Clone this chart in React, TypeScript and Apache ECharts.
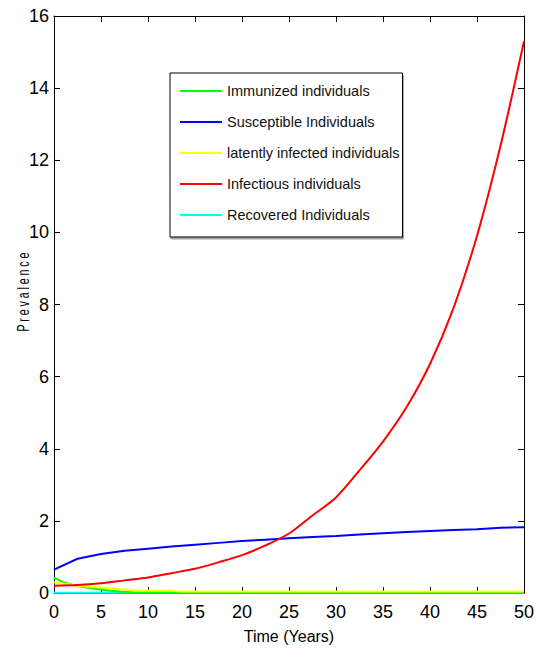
import React, { useEffect, useRef } from "react";
import * as echarts from "echarts";

const FONT = "'Liberation Sans Narrow', 'Arial Narrow', 'Liberation Sans', Arial, sans-serif";

const seriesNames = [
  "Immunized individuals",
  "Susceptible Individuals",
  "latently infected individuals",
  "Infectious individuals",
  "Recovered Individuals",
];
const seriesColors = ["#00ff00", "#0000ff", "#ffff00", "#ff0000", "#00ffff"];

const xTicks = [0, 5, 10, 15, 20, 25, 30, 35, 40, 45, 50];

const immunizedX = [0, 1, 2, 3, 4, 5, 6, 7, 8, 10, 12, 15, 20, 30, 40, 50];
const immunizedY = [0.42, 0.3, 0.22, 0.17, 0.13, 0.1, 0.06, 0.04, 0.03, 0.03, 0.03, 0.03, 0.03, 0.03, 0.03, 0.03];

const timeX = [0, 2.5, 5, 7.5, 10, 12.5, 15, 17.5, 20, 22.5, 25, 27.5, 30, 32.5, 35, 37.5, 40, 42.5, 45, 47.5, 50];
const susceptibleY = [0.65, 0.95, 1.08, 1.17, 1.23, 1.29, 1.34, 1.39, 1.44, 1.48, 1.52, 1.55, 1.58, 1.62, 1.66, 1.69, 1.72, 1.75, 1.77, 1.81, 1.82];
const infectiousY = [0.2, 0.22, 0.27, 0.35, 0.43, 0.55, 0.67, 0.85, 1.05, 1.32, 1.65, 2.15, 2.65, 3.4, 4.2, 5.15, 6.35, 7.9, 9.9, 12.4, 15.3];

const latentX = [0, 2.5, 5, 7.5, 8.5, 10, 12.5, 13.5, 20, 30, 40, 50];
const latentY = [0.3, 0.2, 0.15, 0.1, 0.06, 0.06, 0.06, 0.04, 0.04, 0.04, 0.04, 0.04];

const recoveredX = [0, 10, 20, 30, 40, 50];
const recoveredY = [0.01, 0.01, 0.01, 0.01, 0.01, 0.01];

const pairs = (xs: number[], ys: number[]) => xs.map((x, i) => [x, ys[i]]);

export default function App() {
  const ref = useRef<HTMLDivElement>(null);
  useEffect(() => {
    if (!ref.current) return;
    const chart = echarts.init(ref.current, null, { renderer: "svg" });
    const dataSets = [
      pairs(immunizedX, immunizedY),
      pairs(timeX, susceptibleY),
      pairs(latentX, latentY),
      pairs(timeX, infectiousY),
      pairs(recoveredX, recoveredY),
    ];
    const axisLine = { show: true, onZero: false, lineStyle: { color: "#000", width: 1 } };
    const tick = { show: true, inside: true, length: 6, lineStyle: { color: "#000" } };
    chart.setOption({
      animation: false,
      backgroundColor: "#fff",
      grid: { left: 54, top: 16, right: 11, bottom: 61, containLabel: false },
      legend: {
        orient: "vertical",
        left: 170,
        top: 73,
        data: seriesNames.map((name) => ({ name, icon: "rect" })),
        itemWidth: 42,
        itemHeight: 2,
        itemGap: 15,
        padding: [10, 3, 14, 10],
        borderColor: "#000",
        borderWidth: 1,
        backgroundColor: "#fff",
        shadowColor: "rgba(0,0,0,0.35)",
        shadowOffsetX: 1,
        shadowOffsetY: 2,
        shadowBlur: 0,
        textStyle: { fontFamily: FONT, fontSize: 14.5, color: "#111", lineHeight: 16 },
        selectedMode: false,
      },
      xAxis: [
        {
          type: "value",
          min: 0,
          max: 50,
          interval: 5,
          position: "bottom",
          axisLine,
          axisTick: tick,
          splitLine: { show: false },
          axisLabel: {
            color: "#000",
            fontFamily: FONT,
            fontSize: 18,
            margin: 10,
            customValues: xTicks,
          },
          name: "Time (Years)",
          nameLocation: "middle",
          nameGap: 35,
          nameTextStyle: { color: "#000", fontFamily: FONT, fontSize: 16 },
        },
        {
          type: "value",
          min: 0,
          max: 50,
          interval: 5,
          position: "top",
          axisLine,
          axisTick: tick,
          axisLabel: { show: false },
          splitLine: { show: false },
        },
      ],
      yAxis: [
        {
          type: "value",
          min: 0,
          max: 16,
          interval: 2,
          position: "left",
          axisLine,
          axisTick: tick,
          splitLine: { show: false },
          axisLabel: { color: "#000", fontFamily: FONT, fontSize: 18, margin: 5 },
        },
        {
          type: "value",
          min: 0,
          max: 16,
          interval: 2,
          position: "right",
          axisLine,
          axisTick: tick,
          axisLabel: { show: false },
          splitLine: { show: false },
        },
      ],
      graphic: [
        {
          type: "text",
          x: 23,
          y: 292,
          rotation: Math.PI / 2,
          scaleX: 0.62,
          style: {
            text: "P r e v a l e n c e",
            fontFamily: FONT,
            fontSize: 17,
            fill: "#000",
            align: "center",
            verticalAlign: "middle",
          },
        },
      ],
      series: seriesNames.map((name, i) => ({
        name,
        type: "line",
        xAxisIndex: 0,
        yAxisIndex: 0,
        data: dataSets[i],
        symbol: "none",
        smooth: i === 3 ? 0.3 : false,
        lineStyle: { color: seriesColors[i], width: 2 },
        itemStyle: { color: seriesColors[i] },
        z: i === 4 ? 1 : 2,
      })),
    });
    return () => chart.dispose();
  }, []);
  return (
    <div
      ref={ref}
      style={{ position: "fixed", left: 0, top: 0, width: 537, height: 654, background: "#fff" }}
    />
  );
}
